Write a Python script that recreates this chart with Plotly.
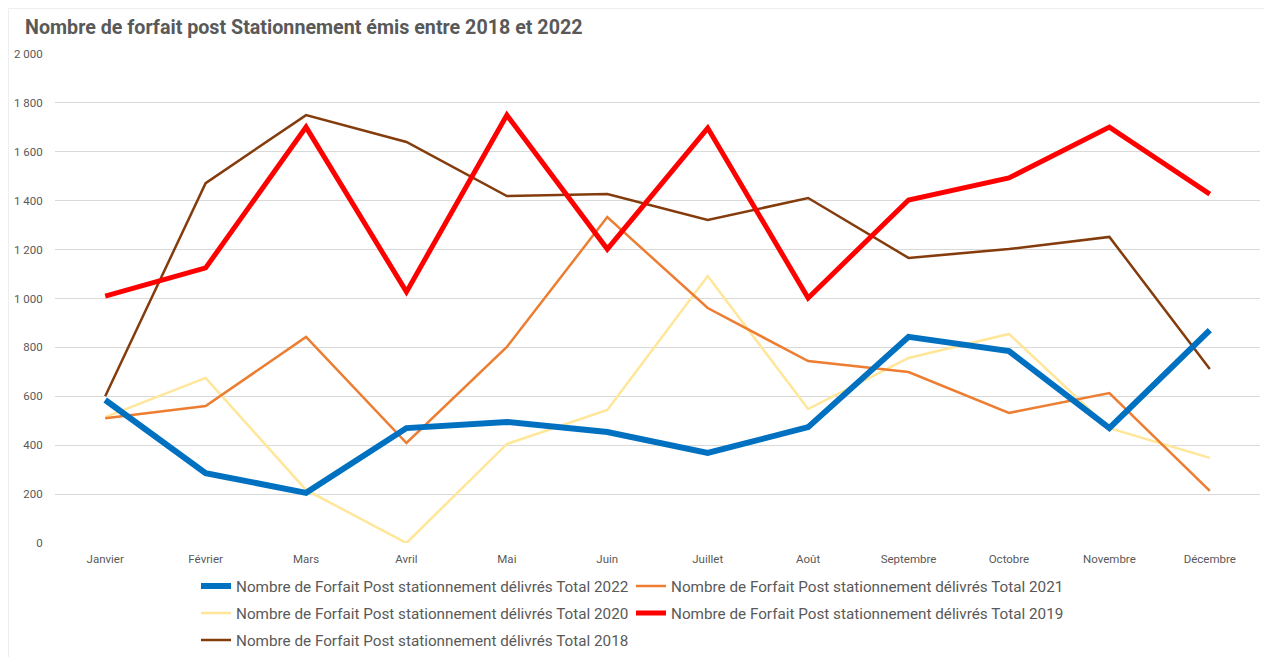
import plotly.graph_objects as go

months = ["Janvier", "Février", "Mars", "Avril", "Mai", "Juin", "Juillet",
          "Août", "Septembre", "Octobre", "Novembre", "Décembre"]

total_2022 = [585, 286, 205, 470, 495, 454, 368, 474, 843, 785, 470, 871]
total_2021 = [510, 560, 843, 409, 802, 1333, 961, 744, 699, 532, 613, 213]
total_2020 = [515, 675, 217, 0, 405, 544, 1092, 548, 757, 855, 470, 348]
total_2019 = [1010, 1125, 1701, 1027, 1750, 1202, 1697, 1002, 1403, 1493, 1701, 1427]
total_2018 = [600, 1472, 1750, 1640, 1419, 1427, 1321, 1411, 1166, 1202, 1252, 712]

series = [
    ("Nombre de Forfait Post stationnement délivrés Total 2022", total_2022, "#0070C0", 6),
    ("Nombre de Forfait Post stationnement délivrés Total 2021", total_2021, "#ED7D31", 2.5),
    ("Nombre de Forfait Post stationnement délivrés Total 2020", total_2020, "#FFE699", 2.5),
    ("Nombre de Forfait Post stationnement délivrés Total 2019", total_2019, "#FF0000", 5),
    ("Nombre de Forfait Post stationnement délivrés Total 2018", total_2018, "#843C0C", 2.5),
]

FONT = "Roboto, Arial, sans-serif"
W, H = 1272, 657
L, R, T, B = 47, 20, 46, 122
PW, PH = W - L - R, H - T - B

# legend slot (column x, row y) for each series, in figure pixels
leg_pos = [(188, 578), (623, 578), (188, 605), (623, 605), (188, 632)]
leg_ids = ["legend", "legend2", "legend3", "legend4", "legend5"]

fig = go.Figure()
order = [4, 2, 1, 3, 0]
for i in order:
    name, vals, color, w = series[i]
    fig.add_trace(go.Scatter(x=months, y=vals, name=name, mode="lines",
                             line=dict(color=color, width=w), legend=leg_ids[i]))

legends = {}
for i, lid in enumerate(leg_ids):
    px, py = leg_pos[i]
    legends[lid] = dict(orientation="v", xref="container", yref="container",
                        x=px / W, xanchor="left", y=1 - py / H, yanchor="middle",
                        font=dict(family=FONT, size=15.25, color="#595959"),
                        itemwidth=30, bgcolor="rgba(0,0,0,0)")

fig.update_layout(
    template="none",
    width=W, height=H,
    margin=dict(l=L, r=R, t=T, b=B, autoexpand=False),
    paper_bgcolor="white", plot_bgcolor="white",
    separators=", ",
    title=dict(text="<b>Nombre de forfait post Stationnement émis entre 2018 et 2022</b>",
               x=17 / W, xanchor="left", y=1 - 19 / H, yanchor="middle",
               font=dict(family=FONT, size=19.7, color="#595959")),
    font=dict(family=FONT, color="#595959"),
    showlegend=True,
    xaxis=dict(range=[-0.5, 11.5], showgrid=False, showline=False, zeroline=False,
               automargin=False,
               ticks="outside", ticklen=5, tickcolor="rgba(0,0,0,0)",
               tickfont=dict(family=FONT, size=11.5, color="#595959")),
    yaxis=dict(range=[0, 2000], dtick=200, tickformat=",d", showgrid=True,
               automargin=False,
               gridcolor="#D9D9D9", gridwidth=1, zeroline=False, showline=False,
               ticks="outside", ticklen=9, tickcolor="rgba(0,0,0,0)",
               tickfont=dict(family=FONT, size=11.5, color="#595959")),
    shapes=[dict(type="rect", xref="paper", yref="paper",
                 x0=(0.5 - L) / PW, x1=(1258 - L) / PW,
                 y0=-(B + 4) / PH, y1=1 + (T - 0.5) / PH,
                 line=dict(color="#EEEEEE", width=1), fillcolor="rgba(0,0,0,0)",
                 layer="below")],
    **legends,
)

fig.write_html("out.html")
